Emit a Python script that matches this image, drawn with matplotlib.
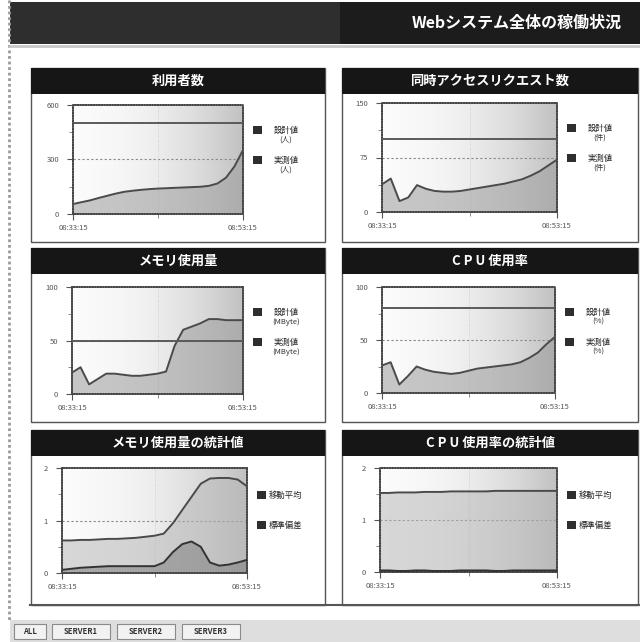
import numpy as np
import matplotlib
matplotlib.use('Agg')
import matplotlib.pyplot as plt
from matplotlib.patches import Rectangle

plt.rcParams['font.family'] = ['Noto Sans CJK JP', 'DejaVu Sans']

W, H = 640, 642

# --- data -------------------------------------------------------------
TIME_LABELS = ['08:33:15', '08:53:15']
STEPS = np.arange(21)

users = [55, 65, 75, 88, 100, 112, 122, 128, 133, 137, 140, 142, 144, 146,
         148, 150, 155, 168, 200, 262, 352]
users_design = 500

requests = [38, 46, 15, 20, 37, 32, 29, 28, 28, 29, 31, 33, 35, 37, 39, 42,
            45, 50, 56, 64, 72]
requests_design = 100

memory = [20, 25, 9, 14, 19, 19, 18, 17, 17, 18, 19, 21, 45, 60, 63, 66, 70,
          70, 69, 69, 69]
memory_design = 50

cpu = [26, 29, 8, 16, 25, 22, 20, 19, 18, 19, 21, 23, 24, 25, 26, 27, 29, 33,
       38, 46, 53]
cpu_design = 80

mem_avg = [0.62, 0.62, 0.63, 0.63, 0.64, 0.65, 0.65, 0.66, 0.67, 0.69, 0.71,
           0.75, 0.95, 1.20, 1.45, 1.70, 1.80, 1.81, 1.81, 1.78, 1.65]
mem_std = [0.06, 0.08, 0.10, 0.11, 0.12, 0.13, 0.13, 0.13, 0.13, 0.13, 0.13,
           0.20, 0.40, 0.55, 0.60, 0.50, 0.20, 0.14, 0.16, 0.20, 0.25]

cpu_avg = [1.52, 1.52, 1.53, 1.53, 1.53, 1.54, 1.54, 1.54, 1.55, 1.55, 1.55,
           1.55, 1.55, 1.56, 1.56, 1.56, 1.56, 1.56, 1.56, 1.56, 1.56]
cpu_std = [0.03, 0.03, 0.02, 0.02, 0.03, 0.03, 0.02, 0.02, 0.02, 0.03, 0.03,
           0.03, 0.03, 0.02, 0.02, 0.03, 0.03, 0.03, 0.03, 0.03, 0.03]

TABS = ['ALL', 'SERVER1', 'SERVER2', 'SERVER3']


def px(x0, y0, x1, y1):
    return [x0 / W, 1 - y1 / H, (x1 - x0) / W, (y1 - y0) / H]


fig = plt.figure(figsize=(W / 100, H / 100), dpi=100, facecolor='white')
bg = fig.add_axes([0, 0, 1, 1], zorder=0)
bg.set_xlim(0, W)
bg.set_ylim(H, 0)
bg.axis('off')

# page frame, banner and tab bar
bg.plot([9, 9], [0, 620], color='#9a9a9a', lw=2, ls=(0, (1, 1)))
bg.add_patch(Rectangle((10, 2), 330, 42, fc='#2e2e2e', ec='none'))
bg.add_patch(Rectangle((340, 2), 300, 42, fc='#1c1c1c', ec='none'))
bg.plot([10, 640], [46, 46], color='#c8c8c8', lw=2)
bg.text(412, 23, 'Webシステム全体の稼働状況', color='white', fontsize=11.5,
        fontweight='bold', va='center', ha='left')
bg.plot([30, 640], [605, 605], color='#555555', lw=1.5)
bg.add_patch(Rectangle((10, 620), 630, 22, fc='#dedede', ec='none'))
tab_x = [14, 52, 117, 182]
tab_w = [32, 58, 58, 58]
for tx, tw, name in zip(tab_x, tab_w, TABS):
    bg.add_patch(Rectangle((tx, 624), tw, 15, fc='#f2f2f2', ec='#8a8a8a', lw=0.8))
    bg.text(tx + tw / 2, 631.5, name, fontsize=5.5, ha='center', va='center',
            color='#333333', fontweight='bold')

PANELS = [
    dict(title='利用者数', box=(31, 68, 325, 242), plot=(73, 105, 243, 214),
         ymax=600, ylabels=['0', '300', '600'], kind='design',
         actual=users, design=users_design, unit='人'),
    dict(title='同時アクセスリクエスト数', box=(342, 68, 638, 242),
         plot=(382, 103, 557, 212), ymax=150, ylabels=['0', '75', '150'],
         kind='design', actual=requests, design=requests_design, unit='件'),
    dict(title='メモリ使用量', box=(31, 248, 325, 422), plot=(72, 287, 243, 394),
         ymax=100, ylabels=['0', '50', '100'], kind='design',
         actual=memory, design=memory_design, unit='MByte'),
    dict(title='C P U 使用率', box=(342, 248, 638, 422), plot=(382, 287, 555, 393),
         ymax=100, ylabels=['0', '50', '100'], kind='design',
         actual=cpu, design=cpu_design, unit='%'),
    dict(title='メモリ使用量の統計値', box=(31, 430, 325, 605),
         plot=(62, 468, 247, 573), ymax=2, ylabels=['0', '1', '2'],
         kind='stats', avg=mem_avg, std=mem_std),
    dict(title='C P U 使用率の統計値', box=(342, 430, 638, 605),
         plot=(380, 468, 557, 572), ymax=2, ylabels=['0', '1', '2'],
         kind='stats', avg=cpu_avg, std=cpu_std),
]

grad = np.tile(np.linspace(0, 1, 200) ** 1.5, (2, 1))

for p in PANELS:
    x0, y0, x1, y1 = p['box']
    bg.add_patch(Rectangle((x0, y0), x1 - x0, y1 - y0, fc='white',
                           ec='#555555', lw=1.0))
    bg.add_patch(Rectangle((x0, y0), x1 - x0, 26, fc='#161616', ec='none'))
    bg.text((x0 + x1) / 2, y0 + 13, p['title'], color='white', fontsize=9.5,
            fontweight='bold', ha='center', va='center')

    ax = fig.add_axes(px(*p['plot']), zorder=2)
    ax.imshow(grad, extent=[0, 20, 0, p['ymax']], aspect='auto', cmap='Greys',
              vmin=-0.1, vmax=3.0, zorder=0, interpolation='bilinear')
    ax.set_xlim(0, 20)
    ax.set_ylim(0, p['ymax'])
    ax.axhline(p['ymax'] / 2, color='#8a8a8a', lw=0.8, ls=(0, (2, 2)), zorder=1)
    ax.axvline(10, color='#c4c4c4', lw=0.6, ls=(0, (1, 2)), zorder=1)

    lx = p['plot'][2] + 10
    if p['kind'] == 'design':
        ax.fill_between(STEPS, p['actual'], color='#9c9c9c', alpha=0.55, lw=0, zorder=2)
        ax.plot(STEPS, p['actual'], color='#4a4a4a', lw=1.4, zorder=3)
        ax.axhline(p['design'], color='#5a5a5a', lw=1.4, zorder=3)
        ly0 = p['plot'][1] + 25
        for i, name in enumerate(['設計値', '実測値']):
            ly = ly0 + i * 30
            bg.add_patch(Rectangle((lx, ly - 4), 9, 8, fc='#2e2e2e', ec='none'))
            bg.text(lx + 33, ly, name, fontsize=6, ha='center', va='center',
                    color='#222222')
            bg.text(lx + 33, ly + 10, '(' + p['unit'] + ')', fontsize=5.5,
                    ha='center', va='center', color='#333333')
    else:
        ax.fill_between(STEPS, p['avg'], color='#b4b4b4', alpha=0.5, lw=0, zorder=2)
        ax.fill_between(STEPS, p['std'], color='#7a7a7a', alpha=0.5, lw=0, zorder=2)
        ax.plot(STEPS, p['avg'], color='#4a4a4a', lw=1.4, zorder=3)
        ax.plot(STEPS, p['std'], color='#333333', lw=1.4, zorder=3)
        ly0 = p['plot'][1] + 27
        for i, name in enumerate(['移動平均', '標準偏差']):
            ly = ly0 + i * 30
            bg.add_patch(Rectangle((lx, ly - 4), 9, 8, fc='#2e2e2e', ec='none'))
            bg.text(lx + 12, ly, name, fontsize=6, ha='left', va='center',
                    color='#222222')

    ax.set_yticks([0, p['ymax'] / 2, p['ymax']], p['ylabels'])
    ax.set_yticks([p['ymax'] / 4, p['ymax'] * 3 / 4], minor=True)
    ax.set_xticks([0, 20], TIME_LABELS)
    ax.set_xticks([10], minor=True)
    ax.tick_params(labelsize=5.5, colors='#555555', length=4, width=0.8, pad=6)
    ax.tick_params(which='minor', length=3, width=0.6, colors='#777777')
    ax.tick_params(axis='x', pad=3)
    for s in ax.spines.values():
        s.set_color('#444444')
        s.set_linewidth(1.2)
        s.set_linestyle((0, (1, 0.6)))

fig.savefig('out.png', dpi=100, facecolor='white')
